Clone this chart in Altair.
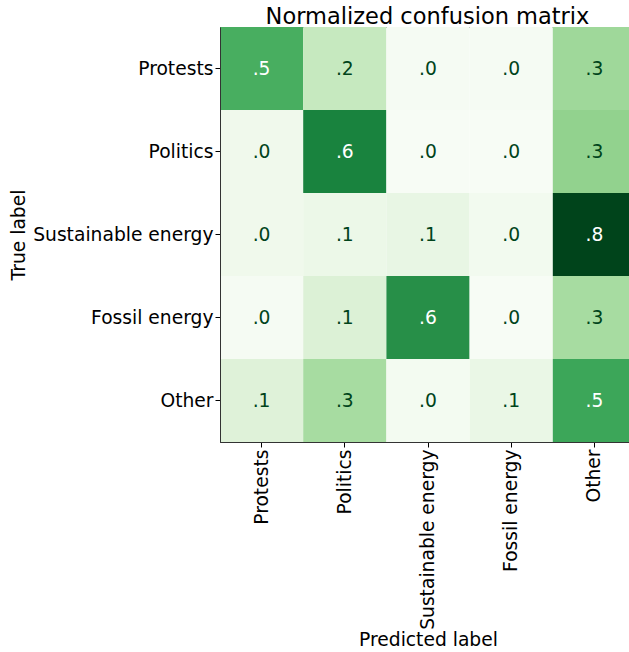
import altair as alt
import pandas as pd

labels = ["Protests", "Politics", "Sustainable energy", "Fossil energy", "Other"]
matrix = [
    [0.48, 0.20, 0.01, 0.01, 0.30],
    [0.04, 0.62, 0.00, 0.00, 0.33],
    [0.04, 0.06, 0.08, 0.03, 0.79],
    [0.01, 0.13, 0.58, 0.00, 0.28],
    [0.12, 0.28, 0.02, 0.07, 0.51],
]
greens = ["#f7fcf5", "#e5f5e0", "#c7e9c0", "#a1d99b", "#74c476",
          "#41ab5d", "#238b45", "#006d2c", "#00441b"]

rows = []
for i, t in enumerate(labels):
    for j, p in enumerate(labels):
        rows.append({"true": t, "pred": p, "v": matrix[i][j]})
df = pd.DataFrame(rows)
vmin = min(min(r) for r in matrix)
vmax = max(max(r) for r in matrix)
thresh = (vmin + vmax) / 2

FONT = "DejaVu Sans"
FS = 18.7

base = alt.Chart(df).encode(
    x=alt.X("pred:N", sort=labels, title="Predicted label",
            scale=alt.Scale(range=[0, 416], paddingInner=0, paddingOuter=0),
            axis=alt.Axis(labelAngle=270, labelAlign="right", labelBaseline="middle",
                          labelFontSize=FS, titleFontSize=FS, labelFont=FONT, titleFont=FONT,
                          labelColor="black", titleColor="black", tickColor="black",
                          domainColor="#333", tickSize=5, labelPadding=2, titlePadding=1,
                          labelLimit=400, titleFontWeight="normal")),
    y=alt.Y("true:N", sort=labels, title="True label",
            scale=alt.Scale(paddingInner=0, paddingOuter=0),
            axis=alt.Axis(labelFontSize=FS, titleFontSize=FS, labelFont=FONT, titleFont=FONT,
                          labelColor="black", titleColor="black", tickColor="black",
                          domainColor="#333", tickSize=5, labelPadding=2, titlePadding=4,
                          labelLimit=400, titleFontWeight="normal")),
)

rect = base.mark_rect().encode(
    color=alt.Color("v:Q", scale=alt.Scale(domain=[vmin, vmax], range=greens,
                                            interpolate="rgb"), legend=None)
)
text = base.transform_calculate(
    lab="substring(format(datum.v, '.1f'), 1)"
).mark_text(fontSize=FS, font=FONT).encode(
    text="lab:N",
    color=alt.condition(f"datum.v > {thresh}", alt.value("white"), alt.value("#00441b")),
)

chart = (rect + text).properties(
    width=409, height=415,
    title=alt.TitleParams("Normalized confusion matrix", fontSize=22.5, font=FONT,
                          fontWeight="normal", color="black", anchor="middle",
                          dx=3, dy=5, offset=4),
    autosize=alt.AutoSizeParams(type="none"),
    padding={"left": 220, "top": 27, "right": 0, "bottom": 210},
).configure_view(stroke="#333", strokeWidth=1)

chart.save("out.html", embed_options={"renderer": "svg", "actions": False})
